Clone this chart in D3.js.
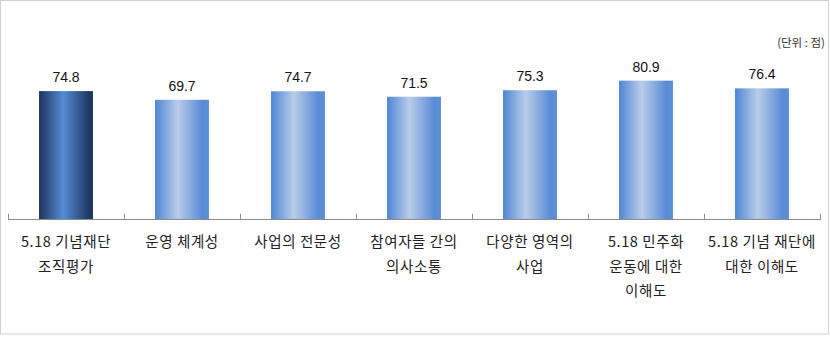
<!DOCTYPE html>
<html>
<head>
<meta charset="utf-8">
<script src="https://cdn.jsdelivr.net/npm/d3@7"></script>
<style>
  html, body { margin: 0; padding: 0; background: #fff; }
  svg { display: block; }
</style>
</head>
<body>
<svg id="chart" width="830" height="346"></svg>
<script>
// Category labels (line breaks marked with "\n")
const categories = [
  "5.18 기념재단\n조직평가",
  "운영 체계성",
  "사업의 전문성",
  "참여자들 간의\n의사소통",
  "다양한 영역의\n사업",
  "5.18 민주화\n운동에 대한\n이해도",
  "5.18 기념 재단에\n대한 이해도"
];
const scores = [74.8, 69.7, 74.7, 71.5, 75.3, 80.9, 76.4];
const unitLabel = "(단위 : 점)";

const svg = d3.select("#chart");

// outer frame
svg.append("rect")
  .attr("x", 0.5).attr("y", 0.5)
  .attr("width", 828).attr("height", 333.5)
  .attr("fill", "#fff").attr("stroke", "#d0d0d0").attr("stroke-width", 1);

const left = 8, right = 820, baseY = 219, topY = 48;

const x = d3.scaleBand()
  .domain(categories)
  .range([left, right])
  .paddingInner(0.535)
  .paddingOuter(0.2675);

const y = d3.scaleLinear().domain([0, 100]).range([baseY, topY]);

// horizontal gradients for the bars
const defs = svg.append("defs");
function grad(id, stops) {
  const g = defs.append("linearGradient").attr("id", id)
    .attr("x1", "0%").attr("x2", "100%").attr("y1", "0%").attr("y2", "0%");
  stops.forEach(([o, c]) => g.append("stop").attr("offset", o).attr("stop-color", c));
}
grad("gMain", [["0%", "#4f86d4"], ["42%", "#b9cde8"], ["88%", "#5a8bd6"], ["100%", "#5e8fd9"]]);
grad("gFirst", [["0%", "#1d355e"], ["45%", "#558cd6"], ["92%", "#1f3a66"], ["100%", "#1c335b"]]);

// bars
svg.append("g").selectAll("rect")
  .data(scores)
  .join("rect")
  .attr("x", (d, i) => x(categories[i]))
  .attr("y", d => y(d))
  .attr("width", x.bandwidth())
  .attr("height", d => baseY - y(d))
  .attr("fill", (d, i) => i === 0 ? "url(#gFirst)" : "url(#gMain)");

// category axis
const axis = d3.axisBottom(x).tickSize(0).tickFormat("");
const ag = svg.append("g").attr("transform", `translate(0,${baseY})`).call(axis);
ag.select(".domain").attr("stroke", "#8c8c8c").attr("d", `M${left},0.5H${right}`);
// boundary ticks between categories
const bounds = d3.range(categories.length + 1).map(i =>
  i === 0 ? left : (i === categories.length ? right : x(categories[i]) - x.step() * x.paddingInner() / 2));
svg.append("g").selectAll("line")
  .data(bounds)
  .join("line")
  .attr("x1", d => Math.round(d) + 0.5).attr("x2", d => Math.round(d) + 0.5)
  .attr("y1", baseY - 5).attr("y2", baseY + 1)
  .attr("stroke", "#8c8c8c");

// value labels
svg.append("g").selectAll("text")
  .data(scores)
  .join("text")
  .attr("x", (d, i) => x(categories[i]) + x.bandwidth() / 2)
  .attr("y", d => y(d) - 9)
  .attr("text-anchor", "middle")
  .attr("font-family", "'Liberation Sans', Arial, sans-serif")
  .attr("font-size", 14)
  .attr("fill", "#111")
  .text(d => d.toFixed(1));

// category labels
const lg = svg.append("g");
categories.forEach((c, i) => {
  const cx = x(c) + x.bandwidth() / 2;
  const t = lg.append("text")
    .attr("x", cx)
    .attr("y", 247)
    .attr("text-anchor", "middle")
    .attr("font-family", "'Noto Sans CJK KR', sans-serif")
    .attr("font-size", 14.5)
    .attr("letter-spacing", 0.6)
    .attr("fill", "#222");
  c.split("\n").forEach((line, j) => {
    t.append("tspan")
      .attr("x", cx)
      .attr("dy", j === 0 ? 0 : 24.5)
      .text(line);
  });
});

// unit note
svg.append("text")
  .attr("x", 825).attr("y", 47)
  .attr("text-anchor", "end")
  .attr("font-family", "'Noto Sans CJK KR', sans-serif")
  .attr("font-size", 11.5)
  .attr("fill", "#333")
  .text(unitLabel);
</script>
</body>
</html>
